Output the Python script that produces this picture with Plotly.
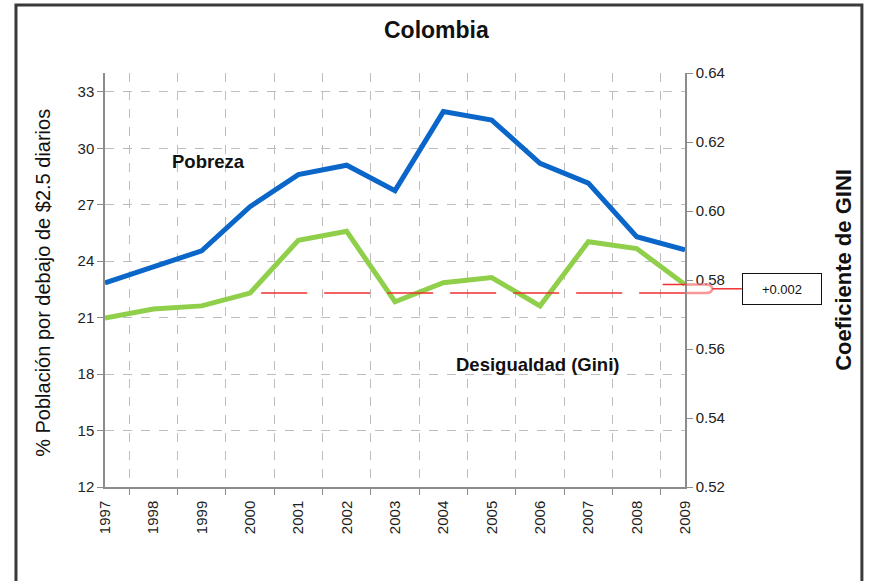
import plotly.graph_objects as go

years = ["1997", "1998", "1999", "2000", "2001", "2002", "2003",
         "2004", "2005", "2006", "2007", "2008", "2009"]
pobreza = [22.85, 23.7, 24.55, 26.9, 28.6, 29.1, 27.75, 31.95, 31.5, 29.2, 28.15, 25.3, 24.6]
gini = [0.5690, 0.5716, 0.5725, 0.5762, 0.5915, 0.5941, 0.5737,
        0.5792, 0.5807, 0.5725, 0.5911, 0.5891, 0.5787]
left_ticks = [12, 15, 18, 21, 24, 27, 30, 33]
right_ticks = [0.52, 0.54, 0.56, 0.58, 0.60, 0.62, 0.64]

FONT = "Liberation Sans Narrow, Arial Narrow, Liberation Sans, Arial, sans-serif"
GRID = "#bdbdbd"
AX = "#8c8c8c"

fig = go.Figure()
fig.add_trace(go.Scatter(x=years, y=pobreza, mode="lines", name="Pobreza",
                         line=dict(color="#0A66C8", width=5), yaxis="y"))
fig.add_trace(go.Scatter(x=years, y=gini, mode="lines", name="Gini",
                         line=dict(color="#8FCF4A", width=5), yaxis="y2"))

n = len(years)
i0 = years.index("2000")
g0 = gini[i0]
g9 = gini[-1]
gm = (g0 + g9) / 2
RED = "#F03030"
shapes = [
    # frame
    dict(type="rect", xref="paper", yref="paper", x0=-0.1535, x1=1.305, y0=-0.3, y1=1.164,
         line=dict(color="#3a3a3a", width=3), layer="below"),
    # reference dashed line at 2000 level
    dict(type="line", xref="paper", yref="y2", x0=(i0 + 0.5) / n, x1=1.003, y0=g0, y1=g0,
         line=dict(color=RED, width=1.5, dash="46px,17px")),
    # 2009 level
    dict(type="line", xref="paper", yref="y2", x0=(n - 0.5) / n, x1=1.003, y0=g9, y1=g9,
         line=dict(color=RED, width=1.5)),
    # brace
    dict(type="path", xref="paper", yref="y2",
         path=f"M 1.003,{g9} L 1.035,{g9} Q 1.047,{g9} 1.047,{gm} Q 1.047,{g0} 1.035,{g0} L 1.003,{g0}",
         line=dict(color="rgba(245,110,110,0.7)", width=2.5)),
    # connector
    dict(type="line", xref="paper", yref="y2", x0=1.047, x1=1.098, y0=gm, y1=gm,
         line=dict(color=RED, width=1.5)),
]

annotations = [
    dict(text="<b>Colombia</b>", x=0.572, y=1.104, xref="paper", yref="paper", showarrow=False,
         font=dict(family=FONT, size=23, color="#111"), xanchor="center", yanchor="middle"),
    dict(text="<b>Pobreza</b>", x=0.179, y=0.786, xref="paper", yref="paper", showarrow=False,
         font=dict(family=FONT, size=18.5, color="#111"), xanchor="center", yanchor="middle"),
    dict(text="<b>Desigualdad (Gini)</b>", x=0.745, y=0.295, xref="paper", yref="paper",
         showarrow=False, font=dict(family=FONT, size=18.5, color="#111"),
         xanchor="center", yanchor="middle"),
    dict(text="% Población por debajo de $2.5 diarios", x=-0.107, y=0.493, xref="paper",
         yref="paper", showarrow=False, textangle=-90,
         font=dict(family=FONT, size=20, color="#111"), xanchor="center", yanchor="middle"),
    dict(text="<b>Coeficiente de GINI</b>", x=1.272, y=0.524, xref="paper", yref="paper",
         showarrow=False, textangle=-90,
         font=dict(family=FONT, size=22, color="#111"), xanchor="center", yanchor="middle"),
    dict(text="+0.002", x=1.098, y=gm, xref="paper", yref="y2", showarrow=False,
         xanchor="left", yanchor="middle", width=76, height=28,
         bordercolor="#111", borderwidth=1, borderpad=1, bgcolor="white",
         font=dict(family="Liberation Sans, Arial, sans-serif", size=13, color="#111")),
]

fig.update_layout(
    width=869, height=581,
    margin=dict(l=105, r=184, t=73, b=94),
    paper_bgcolor="white", plot_bgcolor="white",
    showlegend=False,
    font=dict(family=FONT, size=14, color="#222"),
    xaxis=dict(type="category", tickson="boundaries", showgrid=True, gridcolor=GRID,
               griddash="dash", gridwidth=1, tickangle=-90, ticks="outside", ticklen=6,
               ticklabelstandoff=6,
               tickcolor=AX, showline=True, linecolor=AX, linewidth=1.5,
               tickfont=dict(family=FONT, size=15, color="#222"), zeroline=False),
    yaxis=dict(range=[12, 34], tickvals=left_ticks, showgrid=True, gridcolor=GRID,
               griddash="dash", gridwidth=1, ticks="outside", ticklen=6, tickcolor=AX,
               showline=True, linecolor=AX, linewidth=1.5, zeroline=False,
               tickfont=dict(family=FONT, size=15, color="#222")),
    yaxis2=dict(range=[0.52, 0.64], tickvals=right_ticks, tickformat=".2f", overlaying="y",
                side="right", showgrid=False, ticks="outside", ticklen=6, tickcolor=AX,
                showline=True, linecolor=AX, linewidth=1.5, zeroline=False,
                tickfont=dict(family=FONT, size=15, color="#222")),
    shapes=shapes,
    annotations=annotations,
)

fig.write_html("out.html", config={"displayModeBar": False},
               post_script="document.body.style.margin='0';")
